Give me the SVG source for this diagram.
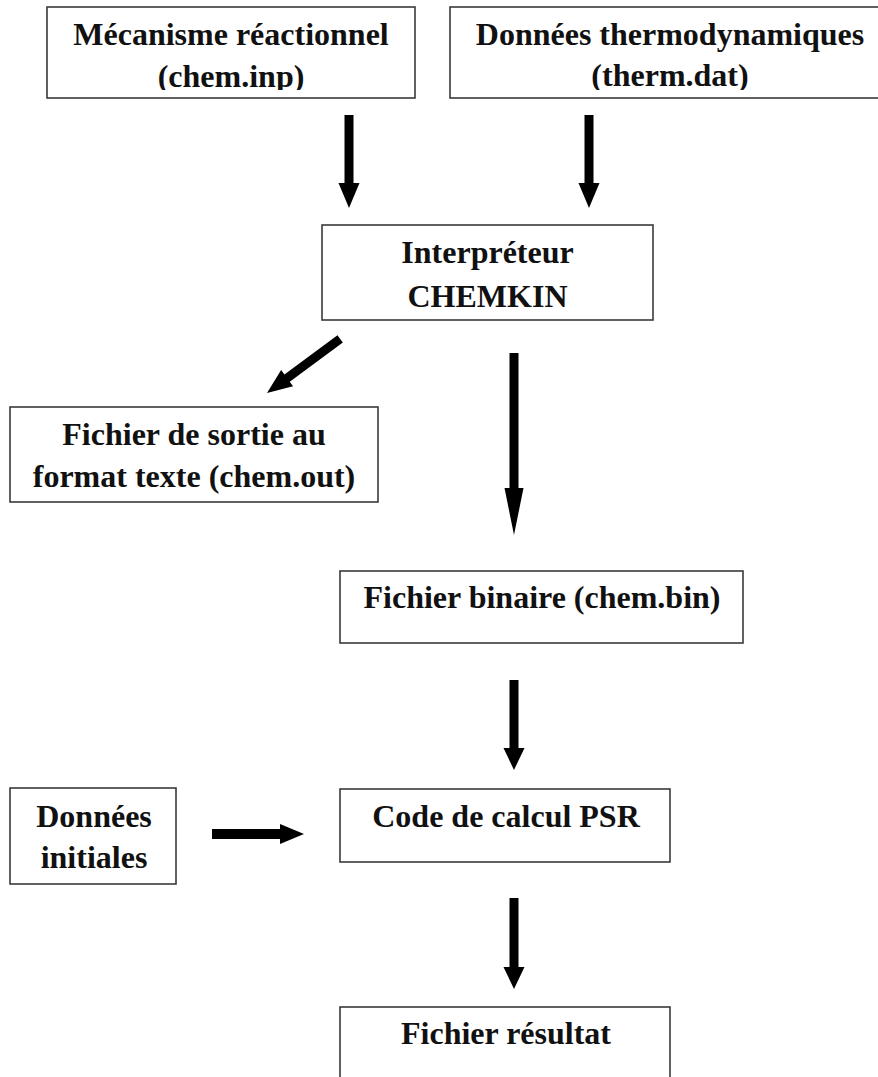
<svg xmlns="http://www.w3.org/2000/svg" width="878" height="1077" viewBox="0 0 878 1077">
<style>
.box{fill:#fff;stroke:#3a3a3a;stroke-width:1.6}
.t{font-family:"Liberation Serif","Times New Roman",serif;font-weight:bold;font-size:32px;fill:#111;text-anchor:middle}
.arr{fill:#000}
</style>
<defs>
<clipPath id="topclip"><rect x="0" y="0" width="878" height="90"/></clipPath>
</defs>
<rect width="878" height="1077" fill="#fff"/>
<g id="n-mecanisme">
<rect class="box" x="47" y="7" width="368" height="91"/>
<g clip-path="url(#topclip)">
<text class="t" x="231" y="45">Mécanisme réactionnel</text>
<text class="t" x="231" y="87">(chem.inp)</text>
</g>
</g>
<g id="n-thermo">
<rect class="box" x="450" y="7" width="440" height="91"/>
<g clip-path="url(#topclip)">
<text class="t" x="670" y="45">Données thermodynamiques</text>
<text class="t" x="670" y="86">(therm.dat)</text>
</g>
</g>
<g id="n-interp">
<rect class="box" x="322" y="225" width="331" height="95"/>
<text class="t" x="487.5" y="263">Interpréteur</text>
<text class="t" x="487.5" y="307">CHEMKIN</text>
</g>
<g id="n-sortie">
<rect class="box" x="10" y="407" width="368" height="95"/>
<text class="t" x="194" y="445">Fichier de sortie au</text>
<text class="t" x="194" y="487">format texte (chem.out)</text>
</g>
<g id="n-binaire">
<rect class="box" x="340" y="571" width="403" height="72"/>
<text class="t" x="542" y="608">Fichier binaire (chem.bin)</text>
</g>
<g id="n-donnees">
<rect class="box" x="10" y="788" width="166" height="96"/>
<text class="t" x="94" y="827">Données</text>
<text class="t" x="94" y="868">initiales</text>
</g>
<g id="n-code">
<rect class="box" x="340" y="789" width="330" height="73"/>
<text class="t" x="506" y="827">Code de calcul PSR</text>
</g>
<g id="n-resultat">
<rect class="box" x="340" y="1007" width="330" height="80"/>
<text class="t" x="506" y="1044">Fichier résultat</text>
</g>
<g id="connectors">
<polygon class="arr" points="344.5,115 353.5,115 353.5,183 359.5,183 349,208 338.5,183 344.5,183"/>
<polygon class="arr" points="584.5,115 593.5,115 593.5,183 599.5,183 589,208 578.5,183 584.5,183"/>
<polygon class="arr" points="509.5,353 518.5,353 518.5,488 523.5,488 514,535 504.5,488 509.5,488"/>
<polygon class="arr" points="509.5,680 518.5,680 518.5,748 524.5,748 514,770 503.5,748 509.5,748"/>
<polygon class="arr" points="509.5,898 518.5,898 518.5,967 524.5,967 514,989 503.5,967 509.5,967"/>
<polygon class="arr" points="212,829 280,829 280,824 304,834 280,844 280,839 212,839"/>
<g transform="translate(267,393) rotate(-36.5)">
<polygon class="arr" points="0,0 25,-10 25,-4.5 91,-4.5 91,4.5 25,4.5 25,10"/>
</g>
</g>
</svg>
